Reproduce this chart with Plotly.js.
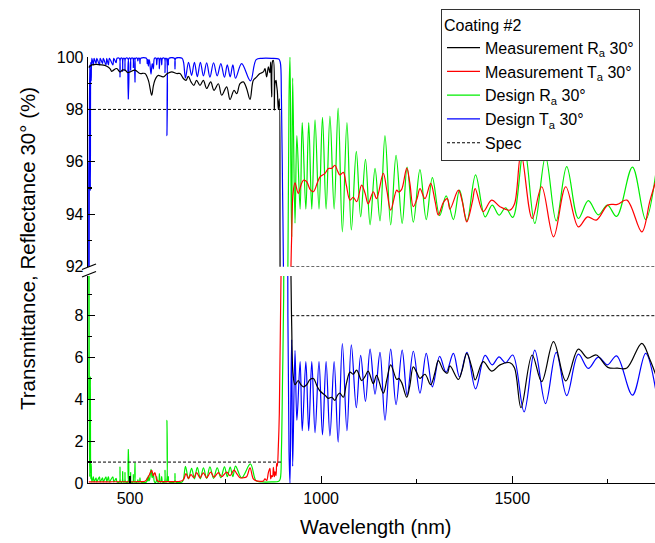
<!DOCTYPE html>
<html><head><meta charset="utf-8">
<script src="https://cdn.plot.ly/plotly-3.0.1.min.js"></script>
<style>html,body{margin:0;padding:0;background:#fff}#chart{width:655px;height:543px}</style>
</head><body><div id="chart"></div>
<script>
// Design curves (green = "Design Ra", blue = "Design Ta")
const wlDesign = [390,390.7,391.4,392.1,392.8,393.5,394.4,395.2,396.2,397.2,398.5,400,
404,406,411,413,420,422,428,430,437,439,443.5,446,455,457.5,463.5,466,
472,473.7,475.5,479,480.7,482.5,485.5,486.8,488.5,494,495.5,497,500.5,501.6,503,507.5,508.6,510,
512,513,514.3,519,520.5,522,524.5,526,528,543,545,546.5,547.9,549.5,551,554.9,558,561,564,
568,569.7,572,575,576.7,579,581,582.8,585,590,591.5,593,595,596.6,598.3,600.2,602,616,617.6,619.5,636,
640,645,653,661,668.5,676,684,692,700.5,709,718.5,728,737.5,747,754.5,762,769,776,792,815,830,
845,870,889,893,896,899,902,906,910,913,916,918.5,920.7,922.9,925.5,931.6,936.5,945,950.5,960,967.5,
975.5,984,994.4,1003.5,1013,1023,1034,1044.5,1055.5,1067.5,1079,1092,1103.4,1116,1128,1141,1154,1167,
1182,1196,1212,1225,1241.2,1258.5,1275,1291,1310,1327,1346,1362,1381.5,1404,1429,1447.5,1465.5,1482.5,
1501.5,1531,1559,1587,1615,1642.5,1673,1699,1725,1749,1773,1814.5,1849,1875];
const designR = [45,10,30,4,12,3.2,0.3,1.0,5.1,0.2,0.9,0.05,
0.3,0.05,0.25,0.05,0.3,0.05,0.25,0.05,0.3,0.05,0.3,0.05,0.3,0.05,0.22,0.05,
0.05,0.76,0.05,0.05,0.55,0.05,0.05,0.5,0.05,0.05,1.6,0.05,0.05,0.5,0.05,0.05,0.4,0.05,
0.05,0.95,0.05,0.05,0.15,0.05,0.05,0.25,0.05,0.05,0.25,0.1,0.35,0.1,0.15,0.65,0.25,0.45,0.05,
0.05,0.3,0.05,0.05,0.45,0.05,0.05,0.3,0.05,0.05,0.6,0.05,0.05,3.0,0.05,0.3,0.05,0.05,0.45,0.05,0.05,
0.2,0.8,0.2,0.7,0.2,0.75,0.2,0.72,0.22,0.77,0.22,0.72,0.25,0.77,0.3,0.76,0.3,0.81,0.25,0.91,0.1,
0.05,0.05,0.08,0.2,1.5,5,9,30,70,92,98.5,100,96,93.14,99.2,93.66,97.0,94.2,97.5,94.2,97.5,
94.2,97.6,94.2,97.7,94.2,97.75,94.2,98.05,93.33,97.5,93.4,96.4,93.9,96.1,93.6,95.75,93.75,97.0,
93.6,96.25,93.65,95.8,93.7,95.7,93.8,95.4,93.95,94.7,93.8,94.92,93.75,95.5,93.9,94.35,93.97,94.25,
93.88,96.6,93.65,96.2,93.75,95.82,93.84,94.52,93.98,94.35,93.92,95.8,93.8,95.5];
const designT = [55,90,70,96,88,96.8,99.7,99.0,94.9,99.8,99.1,99.95,
99.7,99.95,99.75,99.95,99.7,99.95,99.75,99.95,99.7,99.95,99.7,99.95,99.7,99.95,99.78,99.95,
99.95,99.24,99.95,99.95,99.45,99.95,99.95,99.5,99.95,99.95,98.4,99.95,99.95,99.5,99.95,99.95,99.6,99.95,
99.95,99.05,99.95,99.95,99.85,99.95,99.95,99.75,99.95,99.95,99.75,99.9,99.65,99.9,99.85,99.35,99.75,99.55,99.95,
99.95,99.7,99.95,99.95,99.55,99.95,99.95,99.7,99.95,99.95,99.4,99.95,99.95,97.0,99.95,99.7,99.95,99.95,99.55,99.95,99.95,
99.8,99.2,99.8,99.3,99.8,99.25,99.8,99.28,99.78,99.23,99.78,99.28,99.75,99.23,99.7,99.24,99.7,99.19,99.75,99.09,99.9,
99.95,99.95,99.92,99.8,98.5,95,91,70,30,8,1.5,0,4,6.86,0.8,6.34,3.0,5.8,2.5,5.8,2.5,
5.8,2.4,5.8,2.3,5.8,2.25,5.8,1.95,6.67,2.5,6.6,3.6,6.1,3.9,6.4,4.25,6.25,3.0,
6.4,3.75,6.35,4.2,6.3,4.3,6.2,4.6,6.05,5.3,6.2,5.08,6.25,4.5,6.1,5.65,6.03,5.75,
6.12,3.4,6.35,3.8,6.25,4.18,6.16,5.48,6.02,5.65,6.08,4.2,6.2,4.5];

// Measurement curves (black = "Measurement Ra", red = "Measurement Ta")
const wlMeas = [392,400,412,425,439,447.5,452,456,465,474,480,487,494,500,513,526,539,548,556.6,561,565,570,574,
587,597.6,609,622,630.7,639.5,646.4,652.5,659.5,667,674,683,691.8,700.5,711,719.7,731,739.8,752.8,761.6,772,779,
787.7,796.4,805,813.9,822.6,831.3,840,848.8,853,857.5,862,866,868,870.6,873,875,877.6,879.3,882,883.7,885.4,888,
890.6,892.4,895,905,915,921,923,926.5,931.6,940,947,953.5,962,971,979.7,990,997,1010,1019,1027.6,1036,1043,
1049,1058,1066,1075.5,1084,1093,1106,1115,1123,1136.5,1145,1162.6,1172,1182,1197.7,1203,1210.7,1224,1232,1241,
1251,1258.6,1271.7,1286.6,1298,1306.6,1319.6,1330,1337,1359,1369,1381,1396,1403,1424,1446,1468,1494,1506,1523,
1552,1577,1608,1640,1673,1697,1720,1750,1775,1800,1839,1860,1875];
const measR = [99.6,99.7,99.72,99.7,99.65,99.56,99.45,99.49,99.56,99.43,99.5,99.5,99.4,99.43,99.5,99.37,99.37,99.11,98.54,98.9,99.11,99.25,99.3,
99.24,99.37,99.43,99.37,99.37,99.18,99.11,99.26,99.05,98.92,99.11,98.92,99.11,98.8,99.05,98.73,98.98,98.54,98.86,98.38,98.73,98.6,
98.98,99.05,98.8,98.38,99.11,99.24,99.37,99.43,99.56,99.24,99.62,99.4,99.81,98.48,99.85,99.87,97.97,99.0,99.11,98.9,98.7,98.0,
98.4,93,70,40,20,10,7.5,5.2,4.7,4.9,4.7,4.6,4.7,4.95,5.0,4.6,4.4,4.2,4.05,4.1,3.95,4.2,
4.3,4.1,4.75,5.3,5.2,5.4,4.9,5.1,5.35,4.75,5.15,4.3,4.95,5.65,4.95,5.0,4.8,4.1,4.65,5.55,
5.25,5.0,5.2,4.7,5.3,5.85,5.4,5.25,5.6,4.95,5.4,6.2,5.4,4.93,5.8,5.35,5.65,5.75,5.5,3.6,
6.12,4.85,6.76,4.88,6.4,5.97,6.12,5.53,5.49,5.5,6.68,5.9,5.2];
const measT = [0.05,0.05,0.05,0.05,0.05,0.05,0.06,0.06,0.06,0.06,0.06,0.06,0.06,0.06,0.06,0.07,0.08,0.3,0.6,0.35,0.5,0.15,0.08,
0.07,0.07,0.07,0.07,0.08,0.15,0.45,0.22,0.4,0.25,0.5,0.25,0.48,0.25,0.52,0.28,0.5,0.3,0.52,0.35,0.62,0.45,
0.25,0.25,0.3,0.72,0.2,0.1,0.08,0.1,0.2,0.12,0.5,0.7,0.2,0.35,0.3,0.75,0.3,0.55,0.35,0.94,0.8,1.74,
3.35,6,9.9,45,85,92,93.2,94.8,95.2,94.8,95.1,95.3,95.25,94.95,94.86,95.2,95.43,95.56,95.75,95.75,95.87,95.65,
95.5,95.6,95.1,94.54,94.65,94.48,95.11,94.8,94.4,94.86,94.6,95.56,94.9,94.16,94.92,94.85,94.95,95.76,95.2,94.29,
94.6,94.98,94.6,95.18,94.5,93.97,94.45,94.6,94.2,94.92,94.5,93.71,94.5,94.98,94.1,94.54,94.29,94.16,94.4,96.32,
93.84,95.05,93.14,95.05,93.52,93.9,93.78,94.35,94.38,94.54,93.33,94.5,95.24];

// Spec lines
const specStopX = [390, 895];
const specStopT = [98, 98];
const specStopR = [1, 1];
const specPassX = [922, 1875];
const specPassT = [92, 92];
const specPassR = [8, 8];

const FONT = 'Liberation Sans, Arial, Helvetica, sans-serif';
const traces = [];
function addPair(x, y, name, color, rank) {
  const line = {color: color, width: 1.2, shape: 'spline', smoothing: 1};
  traces.push({x: x, y: y, type: 'scatter', mode: 'lines', name: name, legendrank: rank,
    showlegend: true, line: line, xaxis: 'x', yaxis: 'y2'});
  traces.push({x: x, y: y, type: 'scatter', mode: 'lines', name: name, legendrank: rank,
    showlegend: false, line: line, xaxis: 'x', yaxis: 'y'});
}
addPair(wlDesign, designR, 'Design R<sub>a</sub> 30°', '#00ee00', 3);
addPair(wlDesign, designT, 'Design T<sub>a</sub> 30°', '#0000ff', 4);
addPair(wlMeas, measR, 'Measurement R<sub>a</sub> 30°', '#000000', 1);
addPair(wlMeas, measT, 'Measurement T<sub>a</sub> 30°', '#ff0000', 2);
const specLine = {color: '#000', width: 1, dash: '3px,2px'};
traces.push({x: specStopX, y: specStopT, type: 'scatter', mode: 'lines', name: 'Spec', legendrank: 5, showlegend: true, line: specLine, xaxis: 'x', yaxis: 'y2'});
traces.push({x: specPassX, y: specPassT, type: 'scatter', mode: 'lines', name: 'Spec', showlegend: false, line: specLine, xaxis: 'x', yaxis: 'y2'});
traces.push({x: specStopX, y: specStopR, type: 'scatter', mode: 'lines', name: 'Spec', showlegend: false, line: specLine, xaxis: 'x', yaxis: 'y'});
traces.push({x: specPassX, y: specPassR, type: 'scatter', mode: 'lines', name: 'Spec', showlegend: false, line: specLine, xaxis: 'x', yaxis: 'y'});

const axCommon = {showline: true, linecolor: '#000', linewidth: 1.3, showgrid: false, zeroline: false,
  ticks: 'inside', ticklen: 7, tickwidth: 1.2, tickcolor: '#000', tickfont: {size: 16, family: FONT, color: '#000'}};

const layout = {
  width: 655, height: 543,
  margin: {l: 88, r: 0, t: 57, b: 60},
  paper_bgcolor: '#fff', plot_bgcolor: '#fff',
  font: {family: FONT, size: 16, color: '#000'},
  hovermode: false,
  xaxis: Object.assign({}, axCommon, {range: [390, 1873.5], anchor: 'y', tick0: 0, dtick: 500,
    minor: {dtick: 250, ticks: 'inside', ticklen: 4, tickwidth: 1.2, tickcolor: '#000', showgrid: false}}),
  yaxis: Object.assign({}, axCommon, {domain: [0, 0.486], range: [0, 9.9], anchor: 'x', tick0: 0, dtick: 2,
    minor: {dtick: 1, ticks: 'inside', ticklen: 4, tickwidth: 1.2, tickcolor: '#000', showgrid: false}}),
  yaxis2: Object.assign({}, axCommon, {domain: [0.5077, 1], range: [92, 100], anchor: 'x', tick0: 0, dtick: 2,
    minor: {dtick: 1, ticks: 'inside', ticklen: 4, tickwidth: 1.2, tickcolor: '#000', showgrid: false}}),
  legend: {x: 0.6226, y: 1.113, xanchor: 'left', yanchor: 'top', bgcolor: '#fff', bordercolor: '#333', borderwidth: 1,
    font: {size: 16, family: FONT, color: '#000'}, title: {text: 'Coating #2', font: {size: 16, family: FONT}},
    tracegroupgap: 0, traceorder: 'normal', itemwidth: 33},
  annotations: [
    {text: 'Transmittance, Reflectance 30° (%)', xref: 'paper', yref: 'paper', x: -0.1076, y: 0.5516,
     xanchor: 'center', yanchor: 'middle', textangle: -90, showarrow: false, font: {size: 20.5, family: FONT, color: '#000'}},
    {text: 'Wavelength (nm)', xref: 'paper', yref: 'paper', x: 0.508, y: -0.1033,
     xanchor: 'center', yanchor: 'middle', showarrow: false, font: {size: 20, family: FONT, color: '#000'}}
  ],
  shapes: [
    {type: 'line', xref: 'paper', yref: 'paper', x0: -0.0106, y0: 0.5012, x1: 0.0141, y1: 0.5141, line: {color: '#000', width: 1.3}},
    {type: 'line', xref: 'paper', yref: 'paper', x0: -0.0106, y0: 0.4836, x1: 0.0141, y1: 0.4965, line: {color: '#000', width: 1.3}}
  ]
};
Plotly.newPlot('chart', traces, layout, {staticPlot: true, displayModeBar: false});
</script>
</body></html>
